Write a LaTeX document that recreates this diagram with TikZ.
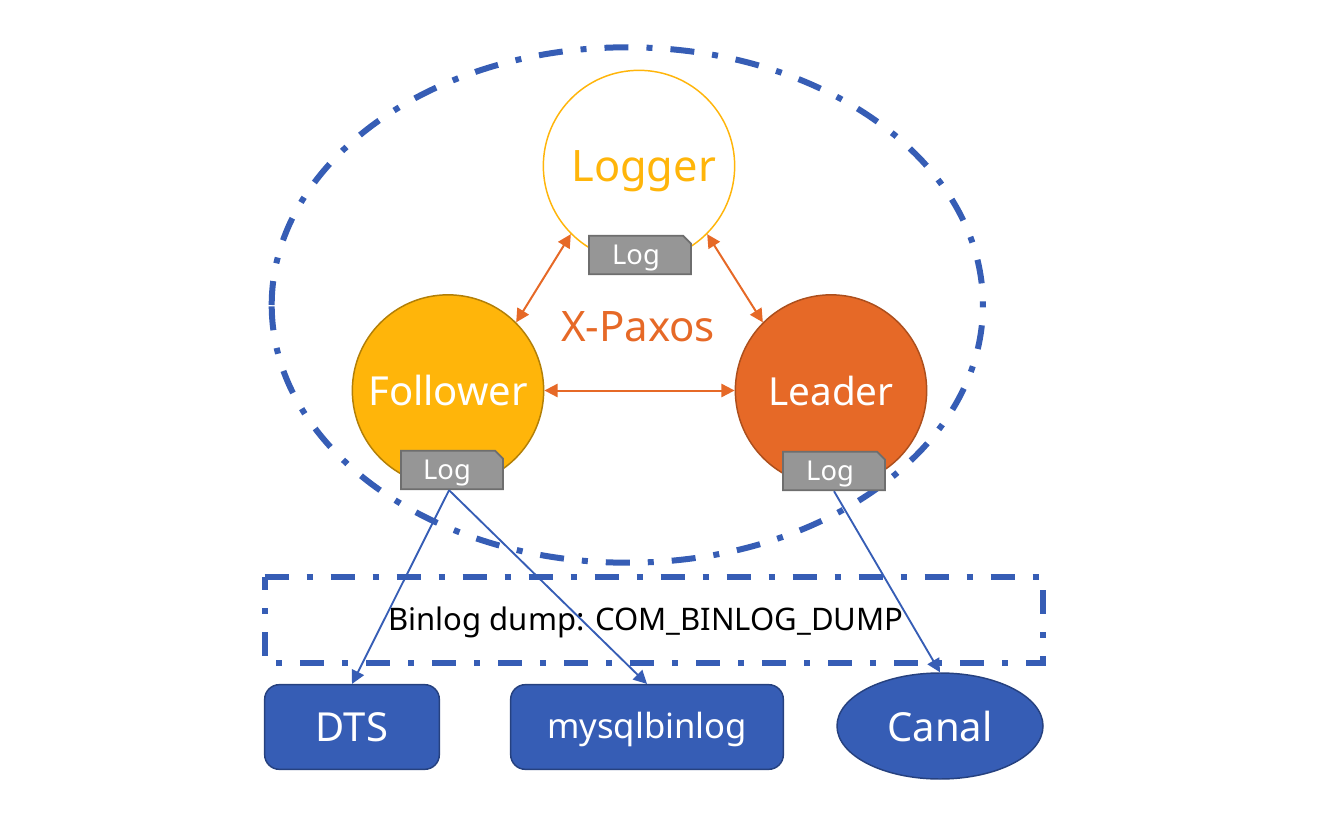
\documentclass[tikz,border=0pt]{standalone}
\usepackage{fontspec}
\setmainfont{Noto Sans}
\usetikzlibrary{shapes.geometric,shapes.misc,arrows.meta}
\definecolor{ocre}{RGB}{230,105,39}
\definecolor{gold}{RGB}{255,181,10}
\definecolor{royal}{RGB}{54,93,181}
\tikzset{
  role/.style={circle,inner sep=0,minimum size=143.5pt,line width=1.1pt,font=\fontsize{30}{36}\selectfont},
  logbox/.style={chamfered rectangle,chamfered rectangle corners=north east,chamfered rectangle xsep=3pt,chamfered rectangle ysep=3pt,
    inner sep=0,minimum width=76.5pt,minimum height=29pt,fill=black!41,draw=black!57,line width=1.3pt,text=white,
    text height=14.5pt,text depth=0pt,font=\fontsize{20.5}{24}\selectfont},
  client/.style={inner sep=0,fill=royal,draw=royal!70!black,line width=1.1pt,text=white,font=\fontsize{30}{36}\selectfont},
  tool/.style={client,rectangle,rounded corners=11pt,minimum height=63.5pt},
  dashdot/.style={draw=royal,line width=4.5pt,dash pattern=on 18pt off 13.5pt on 4.5pt off 13.5pt},
  paxos/.style={draw=ocre,line width=1.5pt,<->,>={Triangle[length=10pt,width=10pt]}},
  dump/.style={draw=royal,line width=1.4pt,->,>={Triangle[length=10pt,width=10pt]}}
}
\begin{document}
\begin{tikzpicture}[x=0.75pt,y=-0.75pt]
\useasboundingbox (0,0) rectangle (1326,830);
% group and dump box
\coordinate (clusterwest) at (271.7,305);
\draw[dashdot] (clusterwest) arc[start angle=180,end angle=540,x radius=355.6,y radius=257.7];
\node[rectangle,inner sep=0,minimum width=583.3pt,minimum height=64.3pt,text depth=1.5pt,font=\fontsize{23.3}{28}\selectfont] (dumpbox) at (653.85,619.85) {Binlog dump: COM\_BINLOG\_DUMP\kern11.8pt};
\draw[dashdot] (dumpbox.north west) -- (dumpbox.north east) -- (dumpbox.south east) -- (dumpbox.south west) -- cycle;
% three roles
\node[role,fill=white,draw=gold,text=gold,text height=23pt,text depth=0pt,font=\fontsize{32.5}{36}\selectfont] (logger) at (639,166) {\hspace{7pt}Logger};
\node[role,fill=gold,draw=gold!70!black,text=white] (follower) at (448,390.5) {Follower};
\node[role,fill=ocre,draw=ocre!75!black,text=white,font=\fontsize{29}{36}\selectfont] (leader) at (831,390.5) {Leader};
\node[logbox] (loggerlog) at (640,255) {Log\kern6pt};
\node[logbox] (followerlog) at (452,470) {Log\kern7.5pt};
\node[logbox] (leaderlog) at (834,471) {Log\kern6pt};
\node[text=ocre,inner sep=0,font=\fontsize{31.5}{36}\selectfont] (xpaxos) at (638,327) {X-Paxos};
\draw[paxos] (logger.225) -- (follower.45);
\draw[paxos] (logger.-45) -- (leader.135);
\draw[paxos] (follower.east) -- (leader.west);
% consumers
\node[tool,minimum width=131pt] (dts) at (352,727) {DTS};
\node[tool,minimum width=204.5pt,text depth=3pt,font=\fontsize{26}{30}\selectfont] (mysqlbinlog) at (647,727) {mysqlbinlog};
\node[client,ellipse,minimum width=154.5pt,minimum height=79.5pt] (canal) at (940,726) {Canal};
\draw[dump] ([xshift=-2.2pt]followerlog.south) -- (dts.north);
\draw[dump] ([xshift=-2.2pt]followerlog.south) -- (mysqlbinlog.north);
\draw[dump] (leaderlog.south) -- (canal.north);
\end{tikzpicture}
\end{document}
